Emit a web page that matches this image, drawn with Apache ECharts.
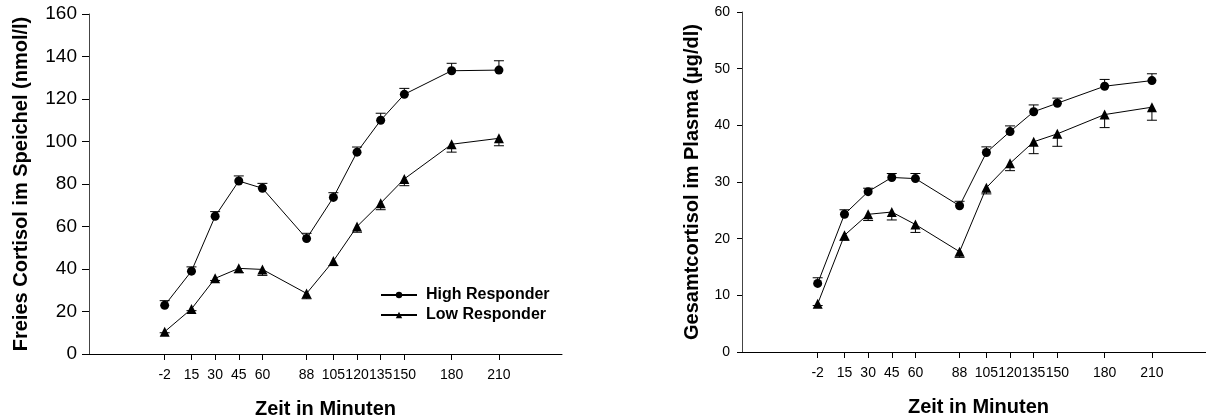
<!DOCTYPE html>
<html>
<head>
<meta charset="utf-8">
<script src="https://cdn.jsdelivr.net/npm/echarts@6/dist/echarts.min.js"></script>
<style>
html, body { margin: 0; padding: 0; background: #fff; }
#chart { width: 1206px; height: 418px; }
</style>
</head>
<body>
<div id="chart"></div>
<script>
// Zeitpunkte (Minuten)
var zeit = [-2, 15, 30, 45, 60, 88, 105, 120, 135, 150, 180, 210];

// Freies Cortisol im Speichel (nmol/l)
var speichelHigh = [22.9, 39, 64.8, 81.4, 78, 54.3, 73.7, 95, 110, 122.2, 133.3, 133.6];
var speichelHighErr = [2.2, 2, 2.2, 2.4, 2.3, 2.5, 2.2, 2.4, 3.3, 2.8, 3.5, 4.4];
var speichelLow = [10.5, 21.2, 35.6, 40.3, 39.8, 28.5, 43.8, 60, 71, 82.4, 98.7, 101.5];
var speichelLowErr = [0.5, 0.8, 1, 2, 2.8, 2.5, 2.2, 2.7, 3.1, 3.2, 3.7, 3.5];

// Gesamtcortisol im Plasma (µg/dl)
var plasmaHigh = [12.1, 24.3, 28.3, 30.8, 30.6, 25.8, 35.2, 38.9, 42.4, 43.9, 46.9, 47.9];
var plasmaHighErr = [1.0, 0.8, 0.6, 0.7, 0.9, 0.8, 1.0, 1.0, 1.2, 0.9, 1.2, 1.2];
var plasmaLow = [8.5, 20.6, 24.3, 24.7, 22.5, 17.7, 29.0, 33.3, 37.1, 38.5, 41.9, 43.2];
var plasmaLowErr = [0.3, 0.9, 1.1, 1.4, 1.4, 1.0, 1.1, 1.3, 2.1, 2.2, 2.3, 2.3];

var font = 'Liberation Sans, Arial, sans-serif';

function pairs(ys) {
    var out = [];
    for (var i = 0; i < zeit.length; i++) out.push([zeit[i], ys[i]]);
    return out;
}

// dir: 1 = nach oben, -1 = nach unten
function errData(ys, errs, dir) {
    var out = [];
    for (var i = 0; i < zeit.length; i++) out.push([zeit[i], ys[i], ys[i] + dir * errs[i]]);
    return out;
}

function renderErr(params, api) {
    var p0 = api.coord([api.value(0), api.value(1)]);
    var p1 = api.coord([api.value(0), api.value(2)]);
    var w = 5;
    var st = {stroke: '#000', lineWidth: 1};
    return {
        type: 'group',
        children: [
            {type: 'line', shape: {x1: p0[0], y1: p0[1], x2: p1[0], y2: p1[1]}, style: st},
            {type: 'line', shape: {x1: p1[0] - w, y1: p1[1], x2: p1[0] + w, y2: p1[1]}, style: st}
        ]
    };
}

function errSeries(idx, ys, errs, dir) {
    return {
        type: 'custom',
        xAxisIndex: idx,
        yAxisIndex: idx,
        renderItem: renderErr,
        data: errData(ys, errs, dir),
        z: 1,
        silent: true
    };
}

function lineSeries(idx, name, ys, symbol, size) {
    return {
        name: name,
        type: 'line',
        xAxisIndex: idx,
        yAxisIndex: idx,
        data: pairs(ys),
        symbol: symbol,
        symbolSize: size,
        showAllSymbol: true,
        itemStyle: {color: '#000'},
        lineStyle: {color: '#000', width: 1},
        z: 3
    };
}

function xAxis(idx, nameGap) {
    return {
        type: 'value',
        gridIndex: idx,
        min: -50,
        max: 250,
        name: 'Zeit in Minuten',
        nameLocation: 'middle',
        nameGap: nameGap,
        nameTextStyle: {fontFamily: font, fontSize: 20, fontWeight: 'bold', color: '#000'},
        splitLine: {show: false},
        axisLine: {onZero: false, lineStyle: {color: '#000', width: 1}},
        axisTick: {show: true, length: 6, customValues: zeit, lineStyle: {color: '#000'}},
        axisLabel: {customValues: zeit, margin: 14, fontFamily: font, fontSize: 14, color: '#000'}
    };
}

function yAxis(idx, max, interval, name, nameGap, labelSize, tickLen) {
    return {
        type: 'value',
        gridIndex: idx,
        min: 0,
        max: max,
        interval: interval,
        name: name,
        nameLocation: 'middle',
        nameGap: nameGap,
        nameTextStyle: {fontFamily: font, fontSize: 20, fontWeight: 'bold', color: '#000'},
        splitLine: {show: false},
        axisLine: {show: true, onZero: false, lineStyle: {color: '#444', width: 1}},
        axisTick: {show: true, length: tickLen, lineStyle: {color: '#000'}},
        axisLabel: {margin: 12, fontFamily: font, fontSize: labelSize, color: '#000'}
    };
}

var myChart = echarts.init(document.getElementById('chart'));
var option = {
    backgroundColor: '#fff',
    animation: false,
    grid: [
        {left: 89, top: 14, width: 473, height: 340, outerBoundsMode: 'none'},
        {left: 742, top: 12, width: 473, height: 340, outerBoundsMode: 'none'}
    ],
    legend: {
        orient: 'vertical',
        left: 375,
        top: 282,
        itemWidth: 36,
        itemHeight: 8,
        itemGap: 4,
        data: ['High Responder', 'Low Responder'],
        textStyle: {fontFamily: font, fontSize: 16, fontWeight: 'bold', color: '#000', padding: [0, 0, 0, 4]}
    },
    xAxis: [xAxis(0, 45), xAxis(1, 45)],
    yAxis: [
        yAxis(0, 160, 20, 'Freies Cortisol im Speichel (nmol/l)', 58, 19, 7),
        yAxis(1, 60, 10, 'Gesamtcortisol im Plasma (µg/dl)', 40, 14, 5)
    ],
    series: [
        errSeries(0, speichelHigh, speichelHighErr, 1),
        errSeries(0, speichelLow, speichelLowErr, -1),
        lineSeries(0, 'High Responder', speichelHigh, 'circle', 9),
        lineSeries(0, 'Low Responder', speichelLow, 'triangle', 10),
        errSeries(1, plasmaHigh, plasmaHighErr, 1),
        errSeries(1, plasmaLow, plasmaLowErr, -1),
        lineSeries(1, 'High Responder', plasmaHigh, 'circle', 9),
        lineSeries(1, 'Low Responder', plasmaLow, 'triangle', 10)
    ]
};
myChart.setOption(option);
</script>
</body>
</html>
